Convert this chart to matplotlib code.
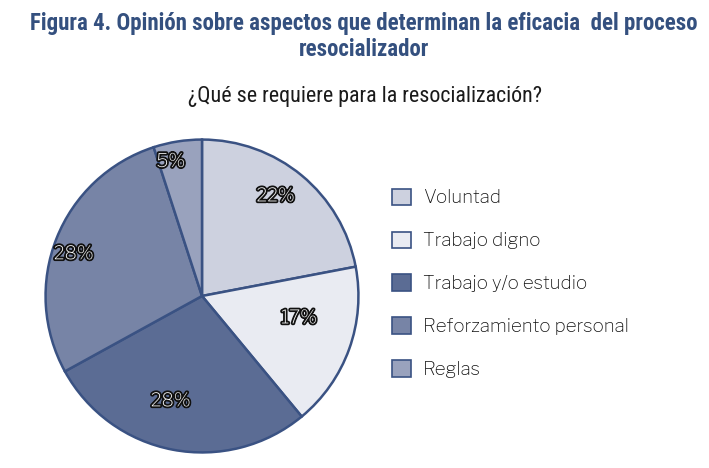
import matplotlib

matplotlib.use("Agg")
import matplotlib.pyplot as plt
import matplotlib.patheffects as pe
from matplotlib.patches import Patch

categorias = ["Voluntad", "Trabajo digno", "Trabajo y/o estudio",
              "Reforzamiento personal", "Reglas"]
porcentajes = [22, 17, 28, 28, 5]
colores = ["#CDD1DF", "#E9EBF2", "#5B6C94", "#7784A6", "#99A2BD"]
# posiciones manuales de las etiquetas (como en el original de Excel)
pos_etiquetas = [(0.47, 0.64), (0.62, -0.14), (-0.20, -0.67), (-0.82, 0.27), (-0.20, 0.86)]

borde = "#3A5283"
titulo_color = "#34507F"
condensada = ["Roboto Condensed", "Archivo Narrow", "DejaVu Sans"]
franklin = ["Libre Franklin", "DejaVu Sans"]

fig = plt.figure(figsize=(7.09, 4.68), dpi=100)
fig.patch.set_facecolor("white")

fig.text(0.513, 0.950, "Figura 4. Opinión sobre aspectos que determinan la eficacia  del proceso",
         ha="center", va="center", fontsize=16.5, fontweight="bold", color=titulo_color,
         family=condensada)
fig.text(0.513, 0.895, "resocializador",
         ha="center", va="center", fontsize=16.5, fontweight="bold", color=titulo_color,
         family=condensada)
fig.text(0.5145, 0.793, "¿Qué se requiere para la resocialización?",
         ha="center", va="center", fontsize=15.8, color="#1A1A1A", family=condensada)

r_px = 158
ax = fig.add_axes([(202 - r_px) / 709, (468 - 296 - r_px) / 468, 2 * r_px / 709, 2 * r_px / 468])
wedges, textos, autotextos = ax.pie(
    porcentajes, colors=colores, startangle=90, counterclock=False,
    autopct="%d%%", pctdistance=0.7,
    wedgeprops=dict(edgecolor=borde, linewidth=1.8),
)
for t, p in zip(autotextos, pos_etiquetas):
    t.set_position(p)
    t.set_color("white")
    t.set_fontsize(13.5)
    t.set_family(franklin)
    t.set_path_effects([pe.withStroke(linewidth=2.6, foreground="#111111")])
ax.set_xlim(-1.01, 1.01)
ax.set_ylim(-1.01, 1.01)
ax.set_aspect("equal")

handles = [Patch(facecolor=c, edgecolor=borde, linewidth=1.2) for c in colores]
fig.legend(handles, categorias, loc="upper left", bbox_to_anchor=(0.553, 0.597),
           frameon=False, handlelength=1.0, handleheight=1.0,
           labelspacing=1.34, handletextpad=0.65, borderpad=0, borderaxespad=0,
           labelcolor="#111111", prop=dict(family=franklin, size=13.5))

fig.savefig("out.png", dpi=100)
